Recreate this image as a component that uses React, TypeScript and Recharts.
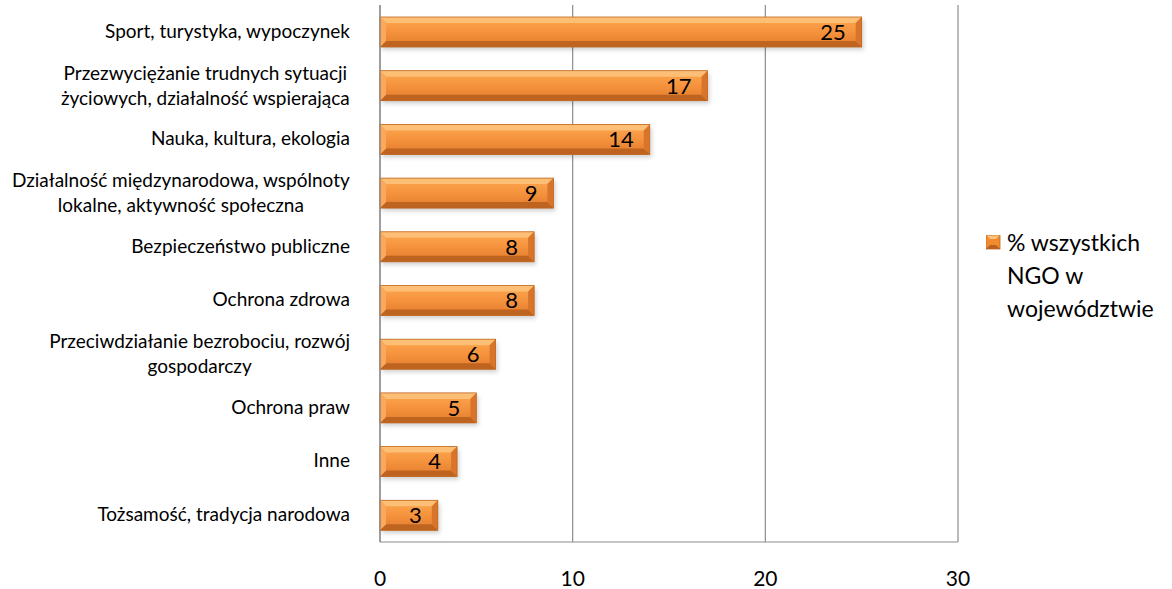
import { Bar, BarChart, CartesianGrid, LabelList, XAxis, YAxis } from "recharts";

const categories = [
  "Sport, turystyka, wypoczynek",
  "Przezwyciężanie trudnych sytuacji\nżyciowych, działalność wspierająca",
  "Nauka, kultura, ekologia",
  "Działalność międzynarodowa, wspólnoty\nlokalne, aktywność społeczna",
  "Bezpieczeństwo publiczne",
  "Ochrona zdrowa",
  "Przeciwdziałanie bezrobociu, rozwój\ngospodarczy",
  "Ochrona praw",
  "Inne",
  "Tożsamość, tradycja narodowa",
];
const values = [25, 17, 14, 9, 8, 8, 6, 5, 4, 3];
const xTicks = [0, 10, 20, 30];
const seriesName = "% wszystkich NGO w województwie";

const data = categories.map((name, i) => ({ name, value: values[i] }));

const font = "Lato, 'Open Sans', sans-serif";
const catSize = 19;

let ctx: CanvasRenderingContext2D | null = null;
function textWidth(s: string) {
  if (!ctx) ctx = document.createElement("canvas").getContext("2d");
  ctx!.font = `${catSize}px Lato`;
  return ctx!.measureText(s).width;
}

function CategoryTick({ x, y, payload }: any) {
  const lines = String(payload.value).split("\n");
  const right = x - 22;
  if (lines.length === 1) {
    return (
      <text x={right} y={y} dy={6} textAnchor="end" fontSize={catSize} fontFamily={font} fill="#000">
        {lines[0]}
      </text>
    );
  }
  const w = Math.max(...lines.map(textWidth));
  const cx = right - w / 2;
  return (
    <text x={cx} y={y} textAnchor="middle" fontSize={catSize} fontFamily={font} fill="#000">
      {lines.map((l, i) => (
        <tspan key={i} x={cx} dy={i === 0 ? -6 : 25}>{l}</tspan>
      ))}
    </text>
  );
}

function XTick({ x, y, payload }: any) {
  return (
    <text x={x} y={y} dy={16} textAnchor="middle" fontSize={21} fontFamily={font} fill="#000">
      {payload.value}
    </text>
  );
}

function BevelBar({ x, y, width, height }: any) {
  if (!width || width <= 0) return null;
  const b = 6;
  const x2 = x + width;
  const y2 = y + height;
  return (
    <g>
      <rect x={x + 2} y={y + 3} width={width} height={height} fill="rgba(0,0,0,0.18)" filter="url(#barShadow)" />
      <rect x={x} y={y} width={width} height={height} fill="url(#barFill)" />
      <polygon points={`${x},${y} ${x2},${y} ${x2 - b},${y + b} ${x + b},${y + b}`} fill="#fcc27a" opacity={0.9} />
      <polygon points={`${x},${y2} ${x2},${y2} ${x2 - b},${y2 - b} ${x + b},${y2 - b}`} fill="#b9601f" opacity={0.9} />
      <polygon points={`${x},${y} ${x + b},${y + b} ${x + b},${y2 - b} ${x},${y2}`} fill="#f9a85c" />
      <polygon points={`${x2},${y} ${x2 - b},${y + b} ${x2 - b},${y2 - b} ${x2},${y2}`} fill="#d8752b" />
      <rect x={x} y={y} width={width} height={height} fill="none" stroke="#c0661f" strokeWidth={0.8} />
    </g>
  );
}

function LegendBox() {
  return (
    <div style={{ position: "absolute", left: 986, top: 226, display: "flex", alignItems: "flex-start", fontFamily: font, fontSize: 23, lineHeight: "33px", color: "#000" }}>
      <svg width={16} height={16} style={{ marginTop: 9, marginRight: 5, flex: "none" }}>
        <rect x={0} y={0} width={14} height={14} fill="#f28a2e" />
        <polygon points="0,0 14,0 10,4 4,4" fill="#fcc27a" />
        <polygon points="0,14 14,14 10,10 4,10" fill="#b9601f" />
        <rect x={0} y={0} width={14} height={14} fill="none" stroke="#c0661f" strokeWidth={0.8} />
      </svg>
      <div style={{ width: 170 }}>{seriesName}</div>
    </div>
  );
}

export default function App() {
  return (
    <div style={{ position: "absolute", left: 0, top: 0, width: 1172, height: 589, background: "#fff" }}>
      <BarChart
        width={1172}
        height={589}
        data={data}
        layout="vertical"
        margin={{ top: 5, right: 214, bottom: 0, left: 0 }}
        barCategoryGap={0}
      >
        <defs>
          <linearGradient id="barFill" x1="0" y1="0" x2="0" y2="1">
            <stop offset="0" stopColor="#fba850" />
            <stop offset="0.45" stopColor="#f7953f" />
            <stop offset="1" stopColor="#e27b2c" />
          </linearGradient>
          <filter id="barShadow" x="-10%" y="-30%" width="120%" height="160%">
            <feGaussianBlur stdDeviation="2" />
          </filter>
        </defs>
        <CartesianGrid horizontal={false} stroke="#8c8c8c" strokeWidth={1.2} />
        <XAxis
          type="number"
          domain={[0, 30]}
          ticks={xTicks}
          height={47}
          tickLine={false}
          axisLine={{ stroke: "#8c8c8c", strokeWidth: 1.2 }}
          tick={<XTick />}
          tickMargin={22}
        />
        <YAxis
          type="category"
          dataKey="name"
          width={380}
          tickLine={false}
          axisLine={{ stroke: "#8c8c8c", strokeWidth: 1.2 }}
          tick={<CategoryTick />}
          interval={0}
        />
        <Bar dataKey="value" name={seriesName} barSize={30} shape={<BevelBar />} isAnimationActive={false}>
          <LabelList dataKey="value" position="insideRight" offset={16} fontSize={22} fontFamily={font} fill="#000" />
        </Bar>
      </BarChart>
      <LegendBox />
    </div>
  );
}
